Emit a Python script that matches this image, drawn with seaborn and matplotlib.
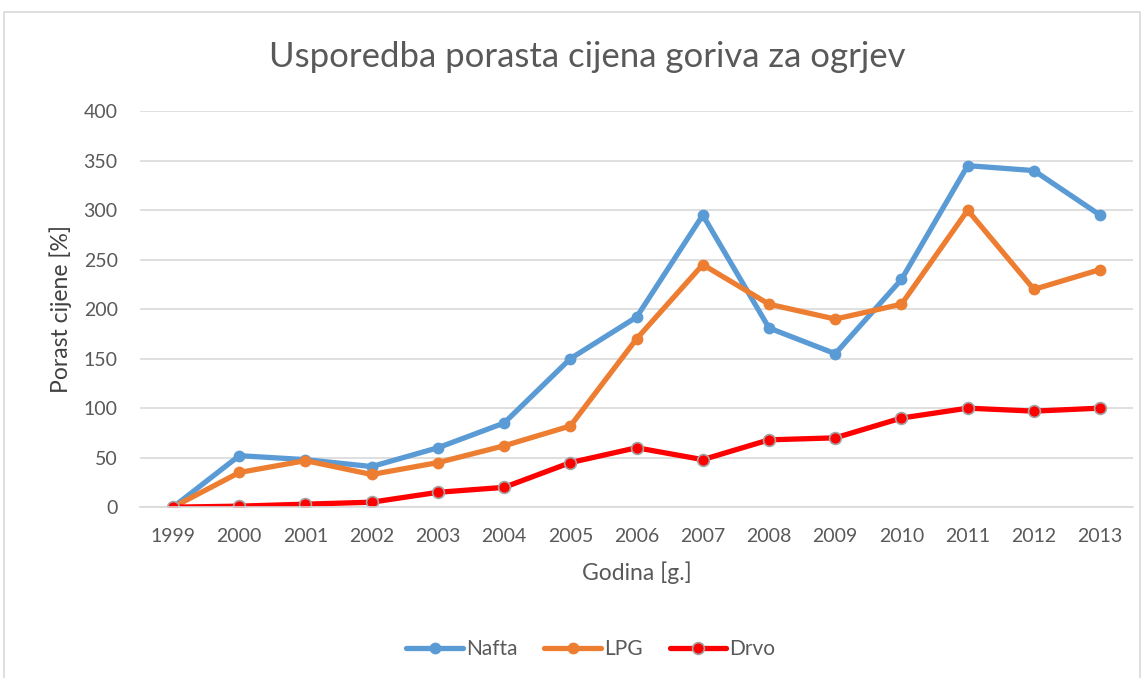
import pandas as pd
import numpy as np
import matplotlib.pyplot as plt
import seaborn as sns
from matplotlib.patches import Rectangle

# Data
years = list(range(1999, 2014))
nafta = [0, 52, 48, 41, 60, 85, 150, 192, 295, 181, 155, 230, 345, 340, 295]
lpg = [0, 35, 47, 33, 45, 62, 82, 170, 245, 205, 190, 205, 300, 220, 240]
drvo = [0, 1, 3, 5, 15, 20, 45, 60, 48, 68, 70, 90, 100, 97, 100]
series_names = ['Nafta', 'LPG', 'Drvo']
colors = ['#5B9BD5', '#ED7D31', '#FF0000']

df = pd.DataFrame({'Godina': years, 'Nafta': nafta, 'LPG': lpg, 'Drvo': drvo})
long_df = df.melt(id_vars='Godina', var_name='Gorivo', value_name='Porast')

sns.set_style('white')
plt.rcParams['font.family'] = ['Lato', 'DejaVu Sans']
text_color = '#595959'

fig = plt.figure(figsize=(11.47, 6.78), dpi=100)
ax = fig.add_axes([0.122, 0.252, 0.866, 0.584])

# outer chart frame
fig.patches.append(Rectangle((4 / 1147, -0.01), 1136 / 1147, 1 - 12 / 678 + 0.01,
                             transform=fig.transFigure, fill=False,
                             edgecolor='#D9D9D9', linewidth=1.2))

sns.lineplot(data=long_df, x='Godina', y='Porast', hue='Gorivo',
             hue_order=series_names, palette=colors, linewidth=3.8,
             marker='o', markersize=8.5, markeredgewidth=0, ax=ax, legend=False)

# Drvo markers have a grey rim
ax.lines[2].set_markeredgecolor('#A5A5A5')
ax.lines[2].set_markeredgewidth(1.2)

ax.set_xlim(1998.5, 2013.5)
ax.set_ylim(0, 400)
ax.set_xticks(years)
ax.set_xticklabels([str(y) for y in years])
ax.set_yticks(np.arange(0, 401, 50))
ax.tick_params(axis='both', length=0, labelsize=14, colors=text_color)
ax.tick_params(axis='x', pad=15)
ax.tick_params(axis='y', pad=16)
ax.yaxis.grid(True, color='#D9D9D9', linewidth=1.2)
ax.set_axisbelow(True)
for s in ['top', 'right', 'left']:
    ax.spines[s].set_visible(False)
ax.spines['bottom'].set_color('#D9D9D9')
ax.spines['bottom'].set_linewidth(1.2)

ax.set_xlabel('Godina [g.]', fontsize=16.5, color=text_color, labelpad=12)
ax.set_ylabel('Porast cijene [%]', fontsize=16.5, color='#404040', labelpad=8)
fig.suptitle('Usporedba porasta cijena goriva za ogrjev', fontsize=25,
             color=text_color, x=0.512, y=0.94)

handles = []
for name, c in zip(series_names, colors):
    edge = '#A5A5A5' if name == 'Drvo' else c
    h, = ax.plot([], [], color=c, linewidth=3.8, marker='o', markersize=8.5,
                 markeredgecolor=edge, markeredgewidth=1.2 if name == 'Drvo' else 0)
    handles.append(h)
fig.legend(handles, series_names, loc='center', bbox_to_anchor=(0.515, 0.043),
           ncol=3, frameon=False, fontsize=15, labelcolor=text_color,
           handlelength=2.7, handletextpad=0.15, columnspacing=1.3)

fig.savefig('out.png', dpi=100)
